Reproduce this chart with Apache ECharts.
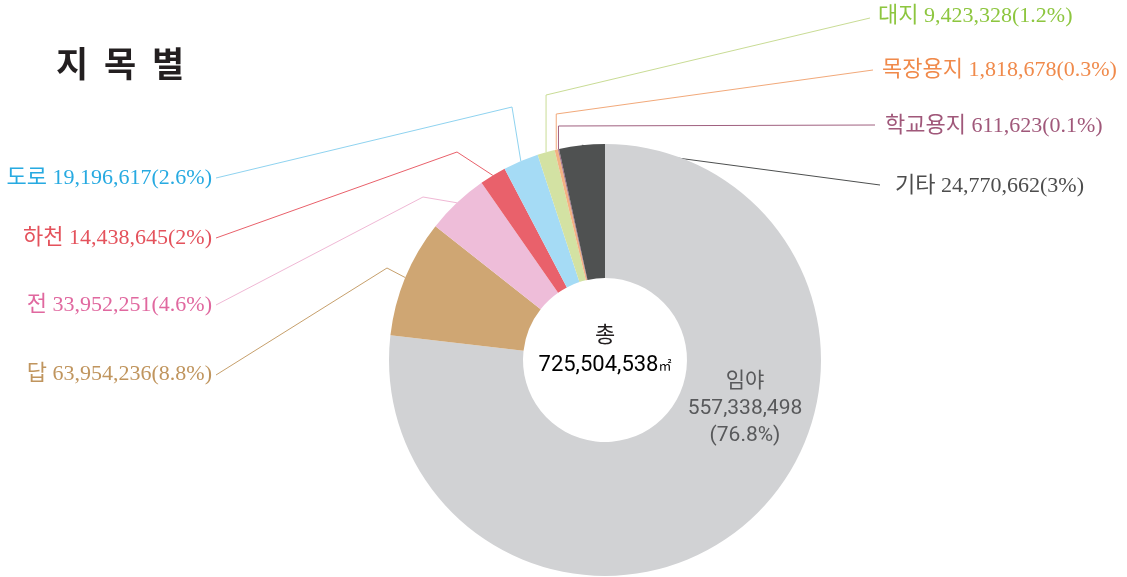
<!DOCTYPE html>
<html><head><meta charset="utf-8">
<script src="https://cdn.jsdelivr.net/npm/echarts@6/dist/echarts.min.js"></script>
<style>html,body{margin:0;padding:0;background:#fff}#c{width:1127px;height:577px}</style>
</head><body><div id="c"></div>
<script>
// ---- data ----
const categories = ['임야', '답', '전', '하천', '도로', '대지', '목장용지', '학교용지', '기타'];
const areas = [557338498, 63954236, 33952251, 14438645, 19196617, 9423328, 1818678, 611623, 24770662];
const percentLabels = ['76.8', '8.8', '4.6', '2', '2.6', '1.2', '0.3', '0.1', '3'];
const titleChars = ['지', '목', '별'];
const centerTitle = '총';
const unitText = '㎡';

// ---- styles ----
const sliceColors = ['#d1d2d4', '#cfa673', '#eebdd9', '#e9616b', '#a5dbf5', '#d3e2a3', '#f2b283', '#a8718a', '#4f5151'];
const textColors  = ['#58595b', '#c0955e', '#e0689f', '#e4525c', '#27aae1', '#8dc63f', '#f08a4b', '#a0587a', '#4d4d4d'];
const lineColors  = ['#d1d2d4', '#c7a06c', '#f0b8d5', '#e9616b', '#8fd3f0', '#c9dc95', '#f2a97a', '#a0607f', '#4d4f4f'];

// ---- layout ----
const CX = 605, CY = 360;
const titleX = [56, 104, 152];
const labelAnchors = [[745, 409], [212, 374], [212, 305], [212, 238], [212, 178], [878, 16], [882, 70], [885, 126], [895, 186]];
const lineEnds = [null, [216, 375], [216, 305], [216, 238], [216, 178], [870, 18], [873, 70], [875, 125], [880, 185]];
const elbows = [null, [387, 268], [423, 197], [457, 152], [512, 107], null, null, null, null];
const elbowY = {5: 95, 6: 114, 7: 126};

const fmt = v => v.toLocaleString('en-US');
const total = areas.reduce((a, b) => a + b, 0);
const serif = "'Liberation Serif', 'Noto Sans CJK KR', serif";
const sans = "Roboto, 'Noto Sans CJK KR', sans-serif";

const data = categories.map((name, i) => {
  const item = {
    name, value: areas[i],
    itemStyle: {color: sliceColors[i]},
    label: {
      color: textColors[i], fontFamily: serif, fontSize: 22,
      formatter: name + ' ' + fmt(areas[i]) + '(' + percentLabels[i] + '%)'
    },
    labelLine: {lineStyle: {color: lineColors[i], width: 1}}
  };
  if (i === 0) {
    item.label = {
      position: 'inside', color: textColors[0], fontFamily: sans, fontSize: 21, lineHeight: 27,
      align: 'center',
      formatter: name + '\n' + fmt(areas[i]) + '\n(' + percentLabels[i] + '%)'
    };
    item.labelLine = {show: false};
  }
  return item;
});

const graphics = titleChars.map((ch, k) => ({
  type: 'text', x: titleX[k], y: 46,
  style: {text: ch, fill: '#231f20', font: "bold 35px 'Noto Sans CJK KR', sans-serif", verticalAlign: 'top'}
}));
graphics.push(
  {type: 'text', x: CX, y: 334, z: 100, style: {text: centerTitle, fill: '#231f20', align: 'center', verticalAlign: 'middle', font: "22px 'Noto Sans CJK KR', sans-serif"}},
  {type: 'text', x: CX, y: 365, z: 100, style: {
    text: '{n|' + fmt(total) + '}{u|' + unitText + '}', align: 'center', verticalAlign: 'middle',
    rich: {n: {fontSize: 22, fontFamily: sans, color: '#231f20'}, u: {fontSize: 13, fontFamily: "'Noto Sans CJK KR', sans-serif", color: '#231f20'}}
  }}
);

const chart = echarts.init(document.getElementById('c'), null, {renderer: 'canvas'});
chart.setOption({
  animation: false,
  backgroundColor: '#ffffff',
  graphic: graphics,
  series: [{
    type: 'pie',
    center: [CX, CY],
    radius: [82, 216],
    startAngle: 90,
    clockwise: true,
    avoidLabelOverlap: false,
    emphasis: {disabled: true, scale: false},
    label: {show: true, position: 'outside'},
    labelLine: {show: true, length: 10, length2: 10, smooth: false},
    labelLayout: function (p) {
      const i = p.dataIndex;
      const a = labelAnchors[i];
      const res = {x: a[0], y: a[1], verticalAlign: 'middle', align: i === 0 ? 'center' : (a[0] < CX ? 'right' : 'left'), hideOverlap: false};
      if (i > 0 && p.labelLinePoints) {
        const s = p.labelLinePoints[0];
        let pts;
        if (elbows[i]) pts = [s, elbows[i], lineEnds[i]];
        else if (elbowY[i] != null) pts = [s, [s[0], elbowY[i]], lineEnds[i]];
        else pts = [s, lineEnds[i]];
        res.labelLinePoints = pts;
      }
      return res;
    },
    data: data
  }]
});
</script>
</body></html>
